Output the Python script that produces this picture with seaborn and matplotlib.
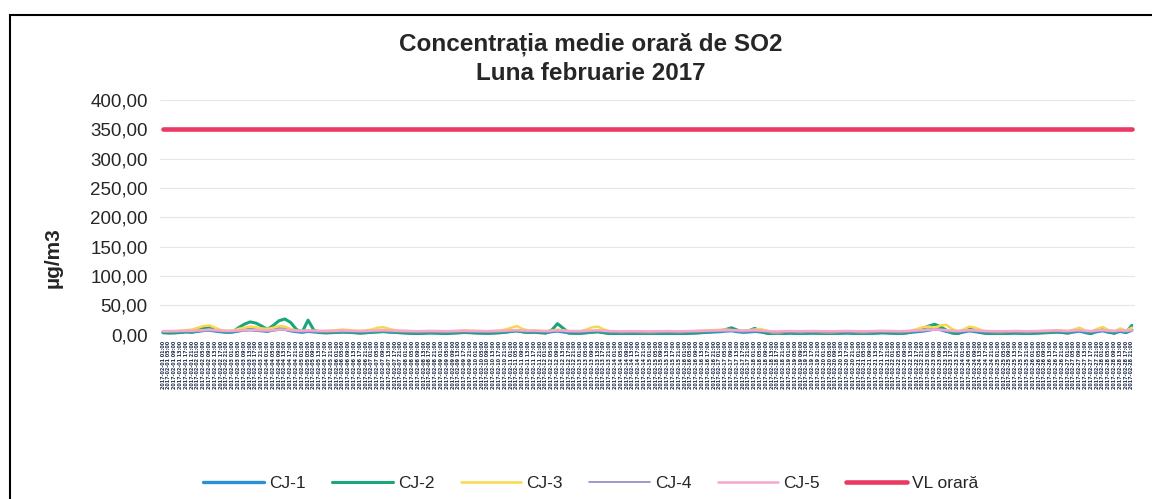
import pandas as pd
import matplotlib.pyplot as plt
import matplotlib.ticker as mticker
import seaborn as sns

# date/time categories, one every 4 hours for February 2017
hours = pd.date_range("2017-02-01 01:00", periods=168, freq="4h")
labels = [h.strftime("%Y-%m-%d %H:%M") for h in hours]

cj1 = [4.5, 4.0, 4.2, 5.0, 5.5, 4.8, 6.0, 7.5, 8.0, 6.5, 5.2, 4.6,
       5.0, 6.5, 8.5, 9.0, 8.0, 7.0, 6.0, 8.5, 10.0, 9.5, 7.0, 5.5,
       4.5, 6.0, 5.0, 4.2, 3.8, 4.0, 4.5, 5.0, 4.6, 4.0, 3.5, 4.2,
       5.0, 5.5, 6.0, 5.2, 4.5, 4.0, 3.6, 3.2, 3.0, 3.4, 3.8, 3.5,
       3.2, 3.0, 3.5, 4.0, 4.5, 4.2, 3.8, 3.5, 3.2, 3.6, 4.0, 4.8,
       6.0, 7.0, 5.5, 4.5, 5.0, 4.2, 3.8, 5.5, 6.5, 5.0, 3.5, 3.0,
       3.2, 4.0, 5.0, 6.0, 4.5, 3.0, 2.8, 2.5, 2.6, 3.0, 2.8, 2.4,
       2.2, 2.5, 2.8, 3.0, 2.6, 2.4, 2.8, 3.2, 3.5, 4.0, 4.5, 5.0,
       5.5, 6.5, 7.0, 5.5, 4.5, 5.0, 6.0, 5.0, 3.5, 2.0, 1.5, 3.0,
       3.5, 3.0, 2.8, 3.2, 3.5, 3.0, 2.6, 2.4, 2.8, 3.2, 3.6, 3.0,
       2.8, 2.6, 3.0, 3.5, 4.0, 3.6, 3.2, 3.0, 3.5, 4.5, 5.5, 6.5,
       8.0, 10.0, 9.0, 6.0, 4.0, 3.0, 5.0, 7.0, 5.5, 4.0, 3.2, 3.0,
       2.8, 3.0, 3.2, 3.5, 3.0, 2.8, 3.2, 3.6, 4.0, 4.5, 5.0, 4.2,
       3.5, 5.0, 6.5, 4.0, 3.0, 5.5, 7.0, 4.5, 3.5, 6.0, 4.0, 8.0]

cj2 = [3.5, 3.0, 3.2, 4.0, 5.0, 4.5, 8.0, 12.0, 14.0, 10.0, 6.0, 4.5,
       5.0, 12.0, 18.0, 22.0, 20.0, 15.0, 9.0, 16.0, 24.0, 27.0, 21.0, 9.0,
       5.0, 25.0, 8.0, 4.0, 3.5, 3.8, 4.2, 5.0, 4.5, 3.8, 3.0, 3.5,
       4.5, 5.0, 5.5, 4.8, 4.0, 3.5, 3.0, 2.5, 2.2, 2.8, 3.2, 3.0,
       2.5, 2.2, 3.0, 3.5, 4.0, 3.6, 3.0, 2.8, 2.5, 3.0, 3.5, 4.5,
       6.0, 7.0, 5.0, 4.0, 4.5, 3.5, 3.0, 8.0, 19.0, 11.0, 3.0, 2.5,
       2.8, 3.5, 4.5, 5.0, 3.5, 2.0, 1.8, 1.5, 1.8, 2.2, 2.0, 1.6,
       1.5, 1.8, 2.2, 2.5, 2.0, 1.8, 2.2, 2.8, 3.2, 4.0, 5.0, 6.0,
       7.0, 9.0, 12.0, 8.0, 5.0, 7.0, 11.0, 6.0, 3.0, 1.0, 0.5, 2.0,
       3.0, 2.5, 2.0, 2.5, 3.0, 2.5, 2.0, 1.8, 2.2, 2.8, 3.2, 2.5,
       2.0, 1.8, 2.5, 3.0, 3.5, 3.0, 2.6, 2.4, 3.0, 5.0, 8.0, 11.0,
       15.0, 18.0, 14.0, 8.0, 3.0, 2.0, 6.0, 11.0, 7.0, 4.0, 2.5, 2.2,
       2.0, 2.2, 2.5, 3.0, 2.5, 2.2, 2.6, 3.0, 3.5, 4.0, 5.0, 4.0,
       3.0, 7.0, 11.0, 4.0, 2.0, 8.0, 12.0, 5.0, 2.5, 9.0, 4.0, 16.0]

cj3 = [6.0, 5.5, 6.0, 7.0, 8.0, 9.0, 12.0, 15.0, 16.0, 12.0, 8.0, 6.5,
       7.0, 10.0, 12.0, 14.0, 13.0, 11.0, 10.0, 12.0, 15.0, 14.0, 10.0, 7.0,
       6.5, 7.0, 6.5, 6.0, 6.5, 7.0, 8.0, 9.0, 8.0, 7.0, 6.5, 7.5,
       9.0, 12.0, 13.0, 10.0, 8.0, 7.0, 6.5, 6.0, 5.8, 6.0, 6.5, 6.2,
       6.0, 5.8, 6.2, 6.8, 7.5, 7.0, 6.5, 6.2, 6.0, 6.5, 7.0, 9.0,
       12.0, 15.0, 10.0, 7.0, 7.5, 6.5, 6.0, 7.0, 9.0, 7.5, 6.0, 5.8,
       6.0, 9.0, 13.0, 14.0, 9.0, 6.0, 5.5, 5.0, 5.2, 5.5, 5.0, 4.8,
       4.6, 5.0, 5.4, 5.8, 5.2, 5.0, 5.4, 6.0, 6.5, 7.0, 7.5, 8.0,
       8.5, 9.0, 8.0, 7.0, 6.5, 8.0, 9.0, 10.0, 7.0, 4.0, 3.0, 5.0,
       5.5, 5.0, 4.8, 5.2, 5.6, 5.0, 4.6, 4.4, 4.8, 5.4, 5.8, 5.2,
       4.8, 4.6, 5.0, 5.5, 6.0, 5.6, 5.2, 5.0, 5.5, 7.0, 10.0, 13.0,
       14.0, 12.0, 16.0, 17.0, 10.0, 6.0, 9.0, 14.0, 12.0, 8.0, 5.5, 5.0,
       4.8, 5.0, 5.4, 5.8, 5.2, 5.0, 5.4, 6.0, 6.5, 7.0, 8.0, 7.0,
       6.0, 9.0, 12.0, 7.0, 5.5, 10.0, 13.0, 8.0, 6.0, 11.0, 7.0, 12.0]

cj4 = [5.0, 4.8, 4.6, 5.0, 5.4, 5.2, 6.0, 7.0, 7.5, 6.5, 5.5, 5.0,
       5.2, 6.0, 7.0, 7.5, 7.0, 6.5, 6.0, 7.0, 8.0, 8.0, 6.5, 5.5,
       5.0, 5.5, 5.2, 4.8, 4.6, 4.8, 5.0, 5.4, 5.2, 4.8, 4.5, 4.8,
       5.5, 6.0, 6.2, 5.6, 5.0, 4.8, 4.5, 4.2, 4.0, 4.2, 4.5, 4.3,
       4.2, 4.0, 4.4, 4.8, 5.0, 4.8, 4.5, 4.3, 4.2, 4.5, 4.8, 5.4,
       6.2, 7.0, 5.8, 5.0, 5.2, 4.8, 4.5, 5.5, 6.5, 5.5, 4.5, 4.2,
       4.4, 5.0, 5.8, 6.2, 5.2, 4.2, 4.0, 3.8, 3.9, 4.1, 4.0, 3.8,
       3.6, 3.8, 4.0, 4.2, 3.9, 3.8, 4.0, 4.4, 4.6, 5.0, 5.4, 5.8,
       6.0, 6.5, 7.0, 6.0, 5.4, 5.8, 6.4, 5.8, 4.6, 3.6, 3.2, 4.0,
       4.4, 4.2, 4.0, 4.2, 4.4, 4.0, 3.8, 3.6, 3.9, 4.2, 4.5, 4.1,
       3.9, 3.7, 4.0, 4.4, 4.8, 4.5, 4.2, 4.0, 4.4, 5.2, 6.0, 7.0,
       8.0, 9.0, 8.5, 6.5, 5.0, 4.2, 5.5, 7.0, 6.0, 5.0, 4.2, 4.0,
       3.9, 4.0, 4.2, 4.5, 4.1, 3.9, 4.2, 4.5, 4.9, 5.3, 5.8, 5.0,
       4.5, 5.8, 7.0, 5.0, 4.2, 6.0, 7.2, 5.4, 4.6, 6.5, 5.0, 7.5]

cj5 = [6.5, 6.4, 6.5, 6.8, 7.0, 7.0, 7.5, 8.0, 8.5, 8.0, 7.2, 6.8,
       7.0, 7.5, 8.0, 8.5, 8.2, 7.8, 7.5, 8.0, 9.0, 9.0, 8.0, 7.2,
       7.0, 7.5, 7.2, 6.8, 6.6, 6.8, 7.0, 7.2, 7.0, 6.8, 6.6, 6.8,
       7.2, 7.5, 7.8, 7.4, 7.0, 6.8, 6.6, 6.4, 6.2, 6.4, 6.6, 6.5,
       6.4, 6.2, 6.5, 6.8, 7.0, 6.8, 6.6, 6.4, 6.3, 6.5, 6.8, 7.2,
       7.6, 8.0, 7.4, 7.0, 7.2, 6.8, 6.6, 7.0, 7.6, 7.2, 6.6, 6.4,
       6.5, 7.0, 7.5, 7.8, 7.0, 6.4, 6.2, 6.0, 6.1, 6.2, 6.1, 6.0,
       5.9, 6.0, 6.2, 6.4, 6.1, 6.0, 6.2, 6.5, 6.7, 7.0, 7.2, 7.5,
       7.6, 7.8, 8.0, 7.6, 7.2, 7.5, 7.8, 7.5, 6.8, 6.0, 5.8, 6.3,
       6.5, 6.4, 6.2, 6.4, 6.5, 6.3, 6.1, 6.0, 6.2, 6.4, 6.6, 6.3,
       6.1, 6.0, 6.2, 6.5, 6.8, 6.6, 6.4, 6.2, 6.5, 7.0, 7.5, 8.0,
       8.5, 9.0, 8.8, 7.8, 7.0, 6.5, 7.2, 8.0, 7.5, 7.0, 6.5, 6.3,
       6.1, 6.2, 6.4, 6.6, 6.3, 6.1, 6.3, 6.6, 6.9, 7.2, 7.5, 7.0,
       6.8, 7.4, 8.0, 7.0, 6.5, 7.5, 8.0, 7.2, 6.8, 7.6, 7.0, 8.0]

vl_orara = 350.0  # valoarea limita orara SO2

series = {
    "CJ-1": cj1,
    "CJ-2": cj2,
    "CJ-3": cj3,
    "CJ-4": cj4,
    "CJ-5": cj5,
    "VL orară": [vl_orara] * len(labels),
}
colors = {"CJ-1": "#2a8fd4", "CJ-2": "#1ba57c", "CJ-3": "#f7d94a",
          "CJ-4": "#8f86c6", "CJ-5": "#f4a6cc", "VL orară": "#ea3a62"}
widths = {"CJ-1": 2.4, "CJ-2": 2.2, "CJ-3": 1.8, "CJ-4": 1.2,
          "CJ-5": 1.8, "VL orară": 3.3}

sns.set_style("white")
plt.rcParams["font.family"] = ["Liberation Sans", "DejaVu Sans"]

fig = plt.figure(figsize=(11.52, 4.99), dpi=100)
ax = fig.add_axes([0.139, 0.329, 0.846, 0.471])

x = list(range(len(labels)))
for name, vals in series.items():
    sns.lineplot(x=x, y=vals, ax=ax, color=colors[name], lw=widths[name],
                 label=name, legend=False)

ax.set_ylim(0, 400)
ax.set_yticks(range(0, 401, 50))
ax.yaxis.set_major_formatter(mticker.FuncFormatter(lambda v, p: f"{v:.2f}".replace(".", ",")))
ax.tick_params(axis="y", labelsize=13.5, length=0, pad=9)
ax.set_xlim(-0.5, len(labels) - 0.5)
ax.set_xticks(x)
# etichete mici, sa incapa toate 168 fara suprapunere
ax.set_xticklabels(labels, rotation=90, fontsize=3.55, color="#1f2d4a",
                   family="DejaVu Sans", fontweight="bold")
ax.tick_params(axis="x", length=0, pad=4)
ax.grid(axis="y", color="#e6e6e6", lw=0.8)
for s in ax.spines.values():
    s.set_visible(False)

ax.set_ylabel("µg/m3", fontsize=15, fontweight="bold")
ax.yaxis.set_label_coords(-0.1, 0.33)
fig.text(0.513, 0.898, "Concentrația medie orară de SO2", ha="center",
         fontsize=17.5, fontweight="bold")
fig.text(0.513, 0.84, "Luna februarie 2017", ha="center",
         fontsize=17.5, fontweight="bold")

handles, names = ax.get_legend_handles_labels()
fig.legend(handles, names, loc="lower center", ncol=6, frameon=False,
           bbox_to_anchor=(0.513, -0.015), fontsize=12.5, handlelength=3.5,
           columnspacing=1.5, handletextpad=0.3)

# chenarul graficului
fig.add_artist(plt.Rectangle((0.009, -0.01), 1.2, 0.98, transform=fig.transFigure,
                             fill=False, lw=1.5, ec="black"))

plt.savefig("out.png", dpi=100)
